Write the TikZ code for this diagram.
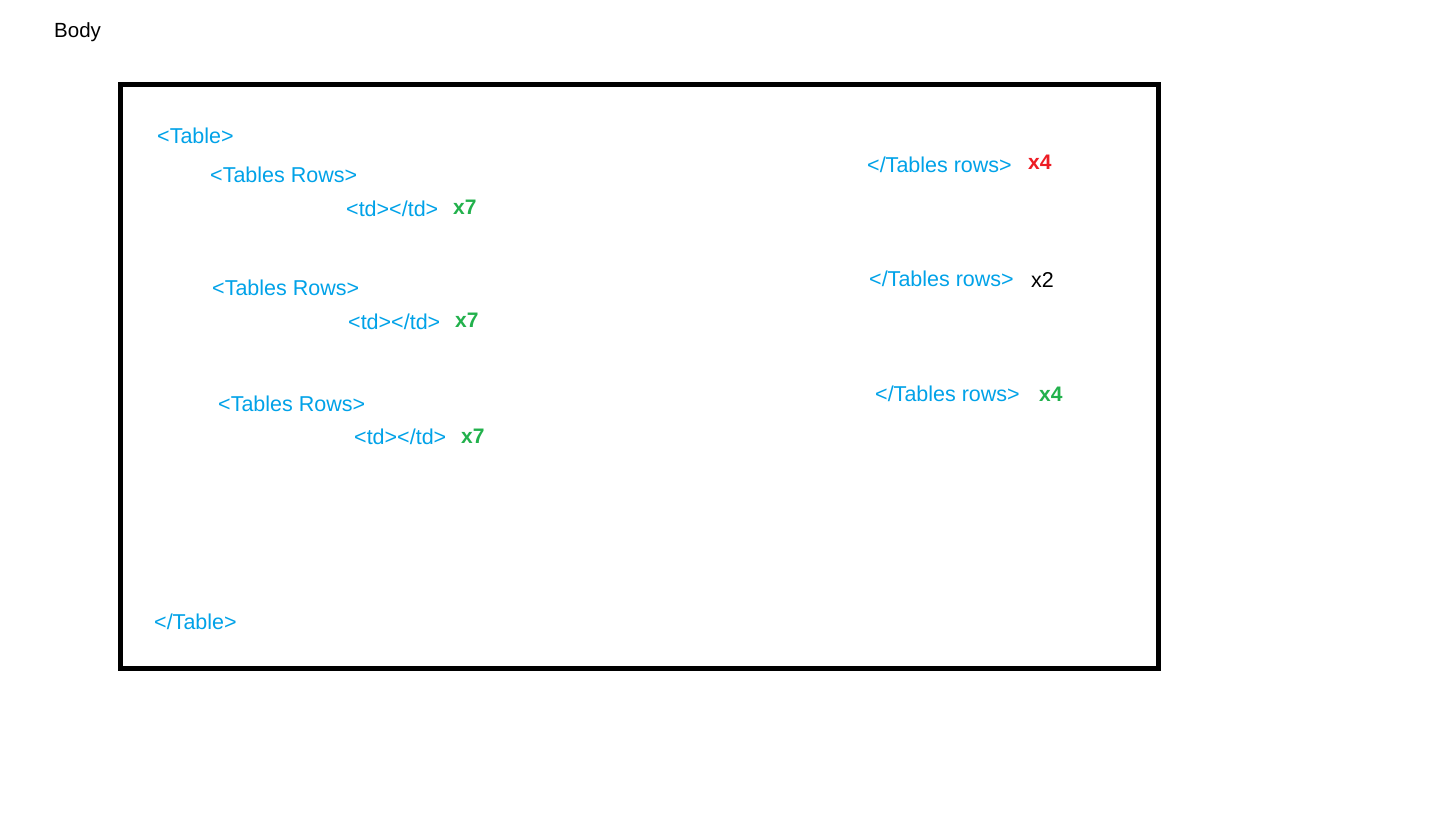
\documentclass[tikz,border=0pt]{standalone}
\usepackage{fontspec}
\setmainfont{Liberation Sans}
\definecolor{tagblue}{HTML}{00A2E8}
\definecolor{cntgreen}{HTML}{22B14C}
\definecolor{cntred}{HTML}{ED1C24}
\begin{document}
\begin{tikzpicture}[x=1pt,y=-1pt,
  lbl/.style={anchor=west,inner sep=0pt,font=\fontsize{21.5}{25}\selectfont},
  tag/.style={lbl,text=tagblue},
  cnt/.style={lbl,font=\fontsize{21}{25}\selectfont\bfseries}]
\useasboundingbox (0,0) rectangle (1452,829);
\fill[white] (0,0) rectangle (1452,829);
\draw[line width=5pt] (120,85) rectangle (1158,668);
\node[lbl,font=\fontsize{20.5}{25}\selectfont] (body) at (54,32) {Body};
\node[tag] (table) at (157,136) {<Table>};
\node[tag] (r1) at (210,175) {<Tables Rows>};
\node[tag] (td1) at (346,209) {<td></td>};
\node[cnt,text=cntgreen] (n1) at (453,207) {x7};
\node[tag] (r2) at (212,288) {<Tables Rows>};
\node[tag] (td2) at (348,322) {<td></td>};
\node[cnt,text=cntgreen] (n2) at (455,320) {x7};
\node[tag] (r3) at (218,404) {<Tables Rows>};
\node[tag] (td3) at (354,437) {<td></td>};
\node[cnt,text=cntgreen] (n3) at (461,436) {x7};
\node[tag] (etable) at (154,622) {</Table>};
\node[tag] (e1) at (867,165) {</Tables rows>};
\node[cnt,text=cntred] (m1) at (1028,162) {x4};
\node[tag] (e2) at (869,279) {</Tables rows>};
\node[lbl] (m2) at (1031,280) {x2};
\node[tag] (e3) at (875,394) {</Tables rows>};
\node[cnt,text=cntgreen] (m3) at (1039,394) {x4};
\end{tikzpicture}
\end{document}
